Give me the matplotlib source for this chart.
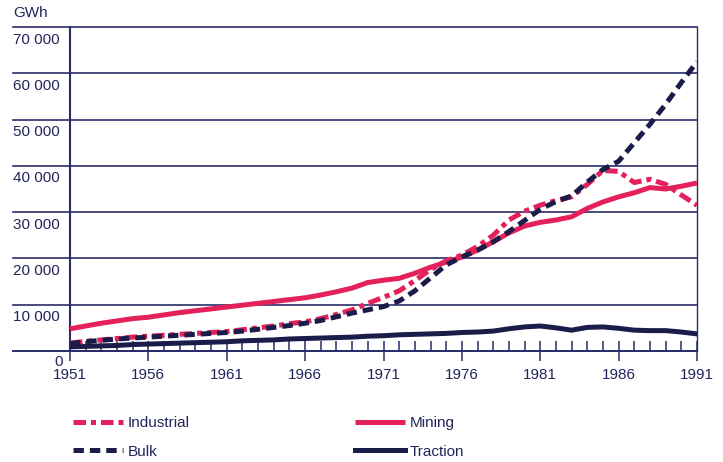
import numpy as np
import matplotlib
matplotlib.use('Agg')
import matplotlib.pyplot as plt
from matplotlib.ticker import MultipleLocator

plt.rcParams['font.family'] = ['Liberation Sans', 'DejaVu Sans']
plt.rcParams['lines.scale_dashes'] = False

years = list(range(1951, 1992))
industrial = [1700, 2100, 2400, 2700, 3000, 3200, 3400, 3600, 3800, 4000,
              4200, 4600, 5000, 5400, 5900, 6300, 7000, 7900, 8900, 10300,
              11600, 13000, 15200, 17600, 19500, 20700, 22600, 25000, 28300, 30200,
              31500, 32500, 33300, 36000, 39000, 38800, 36400, 37100, 36000, 33700,
              31500]
mining = [4800, 5400, 6000, 6500, 7000, 7300, 7800, 8300, 8700, 9100,
          9500, 9900, 10300, 10700, 11100, 11500, 12100, 12800, 13600, 14800,
          15300, 15700, 16800, 18100, 19200, 20300, 21800, 23600, 25500, 27000,
          27800, 28300, 29000, 30800, 32200, 33300, 34200, 35300, 35000, 35600,
          36300]
bulk = [1600, 2000, 2300, 2600, 2800, 3000, 3200, 3400, 3600, 3800,
        4000, 4300, 4700, 5100, 5500, 6000, 6600, 7400, 8200, 8900,
        9600, 10800, 13000, 15800, 18600, 20300, 21800, 23600, 25800, 28200,
        30600, 32300, 33500, 36500, 39200, 41000, 45000, 49000, 53300, 58000,
        62500]
traction = [900, 1000, 1100, 1200, 1400, 1500, 1600, 1700, 1800, 1900,
            2000, 2200, 2300, 2400, 2600, 2700, 2800, 2900, 3000, 3200,
            3300, 3500, 3600, 3700, 3800, 4000, 4100, 4300, 4800, 5200,
            5400, 5000, 4500, 5100, 5200, 4900, 4500, 4400, 4400, 4100,
            3700]
ytick_vals = [10000, 20000, 30000, 40000, 50000, 60000, 70000]
ytick_labels = ['10 000', '20 000', '30 000', '40 000', '50 000', '60 000', '70 000']
xtick_vals = [1951, 1956, 1961, 1966, 1971, 1976, 1981, 1986, 1991]

pink = '#e5215c'
navy = '#1b1c4a'
grid = '#2a2c6b'
txt = '#23245c'

fig = plt.figure(figsize=(7.23, 4.62), dpi=100)
ax = fig.add_axes([70/723, 1-351/462, 627/723, 324/462])
ax.set_xlim(1951, 1991)
ax.set_ylim(0, 70000)

lw = 3.6
ax.plot(years, mining, color=pink, lw=lw, solid_capstyle='butt', zorder=3, label='Mining')
ax.plot(years, industrial, color=pink, lw=lw, dashes=(9, 3.6, 3.6, 3.6), zorder=4, label='Industrial')
ax.plot(years, traction, color=navy, lw=lw, zorder=3, label='Traction')
ax.plot(years, bulk, color=navy, lw=lw, dashes=(7.5, 4.3), zorder=5, label='Bulk')

# gridlines reach out under the labels
ytr = ax.get_yaxis_transform()
for v in ytick_vals:
    ax.plot([-0.091, 1.0], [v, v], transform=ytr, color=grid, lw=1.2, clip_on=False, zorder=1)
ax.plot([-0.091, 1.0], [0, 0], transform=ytr, color=grid, lw=1.4, clip_on=False, zorder=1)
for v, lab in zip(ytick_vals, ytick_labels):
    ax.annotate(lab, xy=(-0.091, v), xycoords=ytr, xytext=(0, -4), textcoords='offset points',
                ha='left', va='top', fontsize=11, color=txt)
ax.annotate('0', xy=(-0.012, 0), xycoords=ytr, xytext=(0, -3), textcoords='offset points',
            ha='right', va='top', fontsize=11, color=txt)
fig.text(13/723, 1-13/462, 'GWh', ha='left', va='center', fontsize=11, color=txt)

ax.set_yticks([])
ax.set_xticks(xtick_vals)
ax.set_xticklabels([str(y) for y in xtick_vals])
ax.xaxis.set_minor_locator(MultipleLocator(1))
ax.tick_params(axis='x', which='major', direction='inout', length=14, width=1.1,
               color=grid, labelsize=11, labelcolor=txt, pad=5)
ax.tick_params(axis='x', which='minor', direction='in', length=7, width=1.1, color=grid)
ax.spines['top'].set_visible(False)
for s in ['left', 'right', 'bottom']:
    ax.spines[s].set_color(grid)
ax.spines['left'].set_linewidth(1.5)
ax.spines['right'].set_linewidth(1.0)
ax.spines['bottom'].set_linewidth(1.4)

h = {l.get_label(): l for l in ax.get_lines() if not l.get_label().startswith('_')}
order = ['Industrial', 'Bulk', 'Mining', 'Traction']
leg = fig.legend([h[k] for k in order], order, loc='upper left',
                 bbox_to_anchor=(73/723, 1-416/462), ncol=2, frameon=False,
                 fontsize=11, handlelength=3.3, handletextpad=0.3,
                 columnspacing=10.8, labelspacing=0.95, borderpad=0, borderaxespad=0)
for t in leg.get_texts():
    t.set_color(txt)

fig.savefig('out.png', dpi=100)
